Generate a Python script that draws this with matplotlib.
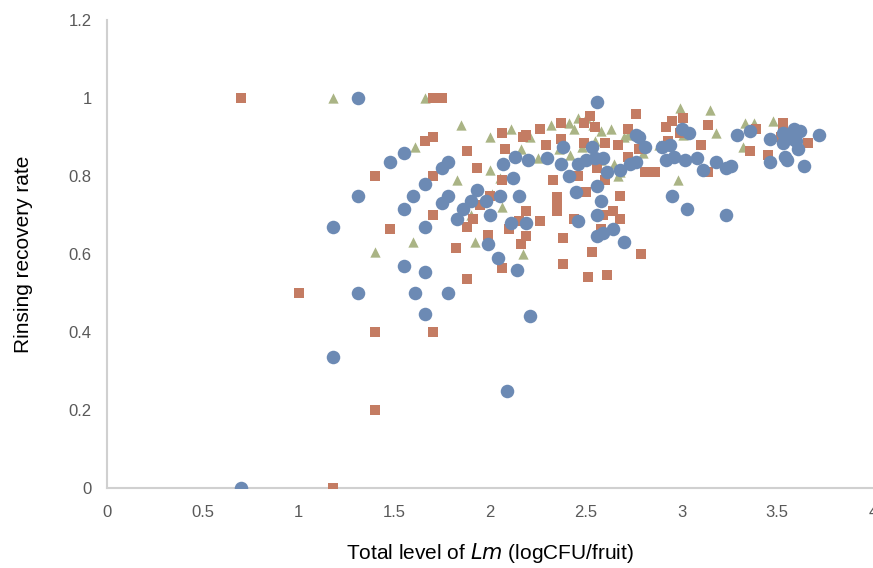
import matplotlib.pyplot as plt

# series 1: blue circles
blue_x = [0.70, 1.31, 1.18, 1.18, 1.31, 1.31, 1.48, 1.55, 1.55, 1.55, 1.60, 1.61,
          1.66, 1.66, 1.66, 1.66, 1.75, 1.78, 1.75, 1.78, 1.78, 1.83, 1.86, 1.90,
          1.93, 1.98, 2.00, 1.99, 2.04, 2.05, 2.07, 2.09, 2.11, 2.12, 2.13, 2.14,
          2.15, 2.19, 2.20, 2.21, 2.30, 2.38, 2.37, 2.41, 2.45, 2.46, 2.46, 2.50,
          2.53, 2.56, 2.55, 2.56, 2.56, 2.56, 2.58, 2.59, 2.59, 2.61, 2.64, 2.68,
          2.70, 2.73, 2.76, 2.76, 2.78, 2.81, 2.90, 2.92, 2.94, 2.95, 2.96, 3.00,
          3.03, 3.02, 3.04, 3.08, 3.11, 3.18, 3.23, 3.23, 3.26, 3.29, 3.36, 3.46,
          3.46, 3.54, 3.58, 3.59, 3.53, 3.55, 3.61, 3.62, 3.60, 3.64, 3.72, 3.53]
blue_y = [0.00, 1.00, 0.67, 0.335, 0.75, 0.50, 0.835, 0.86, 0.715, 0.57, 0.75, 0.50,
          0.78, 0.67, 0.555, 0.445, 0.82, 0.835, 0.73, 0.75, 0.50, 0.69, 0.715, 0.735,
          0.765, 0.735, 0.70, 0.625, 0.59, 0.75, 0.83, 0.25, 0.68, 0.795, 0.85, 0.56,
          0.75, 0.68, 0.84, 0.44, 0.845, 0.875, 0.83, 0.80, 0.76, 0.83, 0.685, 0.84,
          0.875, 0.99, 0.845, 0.775, 0.70, 0.645, 0.735, 0.655, 0.845, 0.81, 0.665, 0.815,
          0.63, 0.83, 0.835, 0.905, 0.90, 0.875, 0.875, 0.84, 0.88, 0.75, 0.85, 0.92,
          0.715, 0.84, 0.91, 0.845, 0.815, 0.835, 0.70, 0.82, 0.825, 0.905, 0.915, 0.835,
          0.895, 0.85, 0.895, 0.92, 0.885, 0.84, 0.87, 0.915, 0.89, 0.825, 0.905, 0.91]

# series 2: orange squares
orange_x = [0.70, 1.00, 1.18, 1.40, 1.40, 1.40, 1.48, 1.66, 1.70, 1.70, 1.70, 1.70,
            1.75, 1.70, 1.82, 1.88, 1.88, 1.88, 1.91, 1.93, 1.99, 1.95, 2.00, 2.06,
            2.06, 2.06, 2.08, 2.10, 2.15, 2.16, 2.17, 2.19, 2.19, 2.19, 2.26, 2.26,
            2.29, 2.33, 2.35, 2.35, 2.35, 2.37, 2.37, 2.38, 2.38, 2.44, 2.46, 2.49,
            2.49, 2.52, 2.50, 2.51, 2.53, 2.55, 2.56, 2.58, 2.61, 2.59, 2.60, 2.60,
            2.64, 2.67, 2.68, 2.68, 2.72, 2.72, 2.76, 2.78, 2.79, 2.81, 2.86, 2.92,
            2.93, 2.95, 3.01, 2.99, 3.14, 3.10, 3.14, 3.36, 3.39, 3.53, 3.53, 3.55,
            3.66, 3.45, 3.52]
orange_y = [1.00, 0.50, 0.00, 0.80, 0.40, 0.20, 0.665, 0.89, 0.90, 0.70, 0.40, 1.00,
            1.00, 0.80, 0.615, 0.535, 0.865, 0.67, 0.69, 0.82, 0.65, 0.725, 0.75, 0.91,
            0.565, 0.79, 0.87, 0.665, 0.685, 0.625, 0.90, 0.905, 0.71, 0.645, 0.92, 0.685,
            0.88, 0.79, 0.745, 0.725, 0.71, 0.935, 0.895, 0.64, 0.575, 0.69, 0.80, 0.935,
            0.885, 0.955, 0.76, 0.54, 0.605, 0.925, 0.82, 0.665, 0.545, 0.70, 0.885, 0.79,
            0.71, 0.88, 0.69, 0.75, 0.85, 0.92, 0.96, 0.87, 0.60, 0.81, 0.81, 0.925,
            0.89, 0.94, 0.95, 0.91, 0.93, 0.88, 0.81, 0.865, 0.92, 0.935, 0.925, 0.895,
            0.885, 0.855, 0.90]

# series 3: green triangles
green_x = [1.18, 1.66, 1.40, 1.60, 1.61, 1.85, 1.83, 1.90, 1.92, 2.00, 2.00, 2.01,
           2.05, 2.06, 2.11, 2.16, 2.17, 2.21, 2.25, 2.32, 2.36, 2.41, 2.44, 2.46,
           2.48, 2.49, 2.42, 2.50, 2.54, 2.55, 2.58, 2.58, 2.63, 2.65, 2.67, 2.68,
           2.70, 2.72, 2.80, 2.88, 2.99, 2.98, 3.01, 3.15, 3.18, 3.32, 3.33, 3.38, 3.48]
green_y = [1.00, 1.00, 0.605, 0.63, 0.875, 0.93, 0.79, 0.70, 0.63, 0.90, 0.815, 0.755,
           0.795, 0.72, 0.92, 0.87, 0.60, 0.90, 0.845, 0.93, 0.87, 0.935, 0.92, 0.95,
           0.875, 0.84, 0.855, 0.95, 0.93, 0.89, 0.84, 0.915, 0.92, 0.83, 0.80, 0.81,
           0.90, 0.905, 0.86, 0.88, 0.975, 0.79, 0.905, 0.97, 0.91, 0.875, 0.935, 0.935, 0.94]

x_ticks = [0, 0.5, 1, 1.5, 2, 2.5, 3, 3.5, 4]
y_ticks = [0, 0.2, 0.4, 0.6, 0.8, 1, 1.2]

plt.rcParams['font.family'] = ['Liberation Sans Narrow', 'Liberation Sans', 'DejaVu Sans']
plt.rcParams['mathtext.fontset'] = 'custom'
plt.rcParams['mathtext.it'] = 'Liberation Sans Narrow:italic'
plt.rcParams['mathtext.rm'] = 'Liberation Sans Narrow'

fig = plt.figure(figsize=(8.73, 5.68), dpi=100)
ax = fig.add_axes([0.1226, 0.1408, 0.8774, 0.824])

ax.scatter(green_x, green_y, marker='^', s=55, color='#AAB485', linewidths=0, zorder=2)
ax.scatter(orange_x, orange_y, marker='s', s=45, color='#C47C63', linewidths=0, zorder=3)
ax.scatter(blue_x, blue_y, marker='o', s=95, color='#6C8AB4', linewidths=0, zorder=4)

ax.set_xlim(0, 4)
ax.set_ylim(0, 1.2)
ax.set_xticks(x_ticks)
ax.set_xticklabels([f'{t:g}' for t in x_ticks])
ax.set_yticks(y_ticks)
ax.set_yticklabels([f'{t:g}' for t in y_ticks])
ax.tick_params(length=0, labelsize=12, colors='#595959', pad=12)
ax.tick_params(axis='y', pad=11)

for side in ['top', 'right']:
    ax.spines[side].set_visible(False)
for side in ['left', 'bottom']:
    ax.spines[side].set_color('#D0D0D0')
    ax.spines[side].set_linewidth(1.5)

ax.set_xlabel('Total level of $\\mathit{Lm}$ (logCFU/fruit)', fontsize=15, color='#000000', labelpad=15)
ax.set_ylabel('Rinsing recovery rate', fontsize=15, color='#000000', labelpad=26)

fig.savefig('out.png', dpi=100)
